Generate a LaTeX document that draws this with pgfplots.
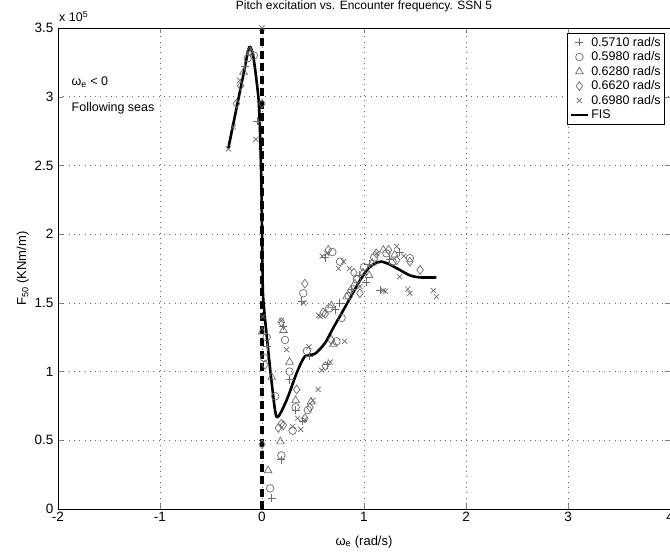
\documentclass[border=0pt]{standalone}
\usepackage{pgfplots}
\pgfplotsset{compat=1.18}
\usepackage{fontspec}
\setmainfont{Liberation Sans}

\definecolor{markgray}{gray}{0.42}

\begin{document}
\begin{tikzpicture}
\begin{axis}[
  name=ax,
  scale only axis,
  width=612pt, height=481pt,
  xmin=-2, xmax=4, ymin=0, ymax=3.5,
  xtick={-2,-1,0,1,2,3,4},
  ytick={0,0.5,1,1.5,2,2.5,3,3.5},
  yticklabels={0,0.5,1,1.5,2,2.5,3,3.5},
  tick align=inside,
  major tick length=5pt,
  /pgf/number format/assume math mode=true,
  ticklabel style={font=\fontsize{13.5}{15}\selectfont},
  yticklabel style={xshift=-1pt},
  grid=major,
  grid style={black!60, line width=0.7pt, dash pattern=on 0.8pt off 4.5pt},
  axis line style={black, line width=0.7pt},
  title={Pitch excitation vs. Encounter frequency. SSN 5},
  title style={font=\fontsize{12}{13}\selectfont, at={(0.5,1)}, anchor=base, yshift=12pt},
  xlabel={ω\textsubscript{e} (rad/s)},
  ylabel={F\textsubscript{50} (KNm/m)},
  label style={font=\fontsize{13}{14}\selectfont},
  xlabel style={at={(rel axis cs:0.5,0)}, anchor=base, yshift=-36pt},
  ylabel style={yshift=-1pt},
  clip=false,
  legend cell align=left,
  legend style={at={(rel axis cs:0.992,0.99)}, anchor=north east,
    draw=black, line width=0.7pt, font=\fontsize{12.5}{14}\selectfont,
    inner sep=2pt},
  every axis plot/.append style={line width=0.7pt},
]

% 0.5710 rad/s
\addplot[only marks, mark=+, mark size=4pt, color=markgray] coordinates {
  (-0.17,3.22) (-0.05,2.82) (0.095,0.08) (0.05,1.18)
  (0.19,0.36) (0.27,0.94) (0.33,0.72) (0.21,1.33)
  (0.40,0.64) (0.46,1.11) (0.64,1.05) (0.39,1.51)
  (0.72,1.45) (0.76,1.50) (0.62,1.83)
  (0.88,1.60) (0.95,1.70) (1.05,1.78) (1.16,1.59)
  (1.25,1.82) (1.35,1.87) (1.02,1.65)
};
% 0.5980 rad/s
\addplot[only marks, mark=o, mark size=3.8pt, color=markgray] coordinates {
  (-0.14,3.28) (-0.08,3.30) (0.08,0.15) (0.046,1.25) (0.13,0.82) (0.02,1.10)
  (0.19,0.39) (0.27,1.00) (0.225,1.23) (0.33,0.74) (0.30,0.57)
  (0.45,0.72) (0.44,1.15) (0.73,1.22) (0.405,1.57)
  (0.66,1.46) (0.78,1.39) (0.765,1.80) (0.69,1.87)
  (0.85,1.55) (0.93,1.67) (1.00,1.76) (1.10,1.83) (1.22,1.86)
  (1.45,1.825) (1.28,1.80)
};
% 0.6280 rad/s
\addplot[only marks, mark=triangle, mark size=4.4pt, color=markgray] coordinates {
  (-0.18,3.18) (-0.11,3.32) (0.06,0.28) (0.00,1.29) (0.095,0.96)
  (0.18,0.49) (0.21,1.30) (0.27,1.07) (0.33,0.79)
  (0.48,0.78) (0.70,1.20) (0.68,1.48)
  (0.83,1.545) (0.91,1.64) (0.99,1.72) (1.08,1.79) (1.19,1.885)
  (1.30,1.85) (1.05,1.70)
};
% 0.6620 rad/s
\addplot[only marks, mark=diamond, mark size=4.4pt, color=markgray] coordinates {
  (-0.25,2.95) (-0.21,3.08) (-0.12,3.33) (0.00,2.95) (0.00,0.47) (0.03,1.05)
  (0.16,0.59) (0.19,0.62) (0.34,0.87) (0.19,1.36) (0.21,0.61)
  (0.47,0.74) (0.42,0.66) (0.62,1.04) (0.68,1.23) (0.42,1.64)
  (0.60,1.43) (0.62,1.42) (0.65,1.885)
  (0.87,1.59) (0.90,1.72) (0.96,1.57) (1.12,1.86) (1.32,1.81)
  (1.45,1.80) (1.55,1.74) (1.24,1.885)
};
% 0.6980 rad/s
\addplot[only marks, mark=x, mark size=3.6pt, color=markgray] coordinates {
  (-0.33,2.62) (-0.28,2.78) (-0.22,3.12) (-0.06,2.69) (0.00,3.50) (0.01,1.40)
  (0.19,1.37) (0.24,1.16) (0.30,0.60) (0.35,0.66)
  (0.42,0.65) (0.50,0.79) (0.55,0.87) (0.38,0.58) (0.46,1.18)
  (0.585,1.01) (0.67,1.07) (0.81,1.22) (0.41,1.50)
  (0.555,1.41) (0.57,1.40) (0.59,1.84) (0.635,1.86) (0.75,1.75) (0.80,1.80)
  (0.86,1.75) (0.96,1.62) (1.125,1.86) (1.21,1.585) (1.32,1.91) (1.35,1.69)
  (1.43,1.60) (1.45,1.57) (1.68,1.59) (1.71,1.545) (1.19,1.59) (1.39,1.84)
};
% FIS
\addplot[black, line width=2.6pt, smooth, tension=0.45] coordinates {
  (-0.33,2.625) (-0.26,2.88) (-0.18,3.17) (-0.125,3.36) (-0.085,3.29)
  (-0.036,3.00) (-0.02,2.76) (-0.005,2.32) (0.005,1.74) (0.013,1.52)
  (0.06,1.16) (0.095,0.92) (0.144,0.67) (0.24,0.79) (0.34,0.99)
  (0.42,1.11) (0.52,1.13) (0.62,1.21) (0.70,1.32) (0.80,1.45)
  (0.86,1.53) (0.95,1.65) (1.03,1.74) (1.10,1.785) (1.17,1.80)
  (1.25,1.78) (1.35,1.74) (1.45,1.70) (1.55,1.685) (1.71,1.685)
};
% omega_e = 0 boundary
\addplot[black, line width=3.5pt, dash pattern=on 8pt off 4.5pt, forget plot] coordinates {
  (0,0) (0,3.5)
};

\legend{0.5710 rad/s, 0.5980 rad/s, 0.6280 rad/s, 0.6620 rad/s, 0.6980 rad/s, FIS}

\node[anchor=base west, font=\fontsize{12.5}{14}\selectfont] at (axis cs:-1.9,3.08) {ω\textsubscript{e} < 0};
\node[anchor=base west, font=\fontsize{12.5}{14}\selectfont] at (axis cs:-1.9,2.89) {Following seas};
\node[anchor=base west, font=\fontsize{12.5}{14}\selectfont, inner sep=0pt] at ([xshift=1pt,yshift=6pt]rel axis cs:0,1) {x 10\textsuperscript{5}};
\end{axis}
\pgfresetboundingbox
\path[use as bounding box] ([xshift=-58pt,yshift=-44pt]ax.south west) rectangle ([yshift=28pt]ax.north east);
\end{tikzpicture}
\end{document}
